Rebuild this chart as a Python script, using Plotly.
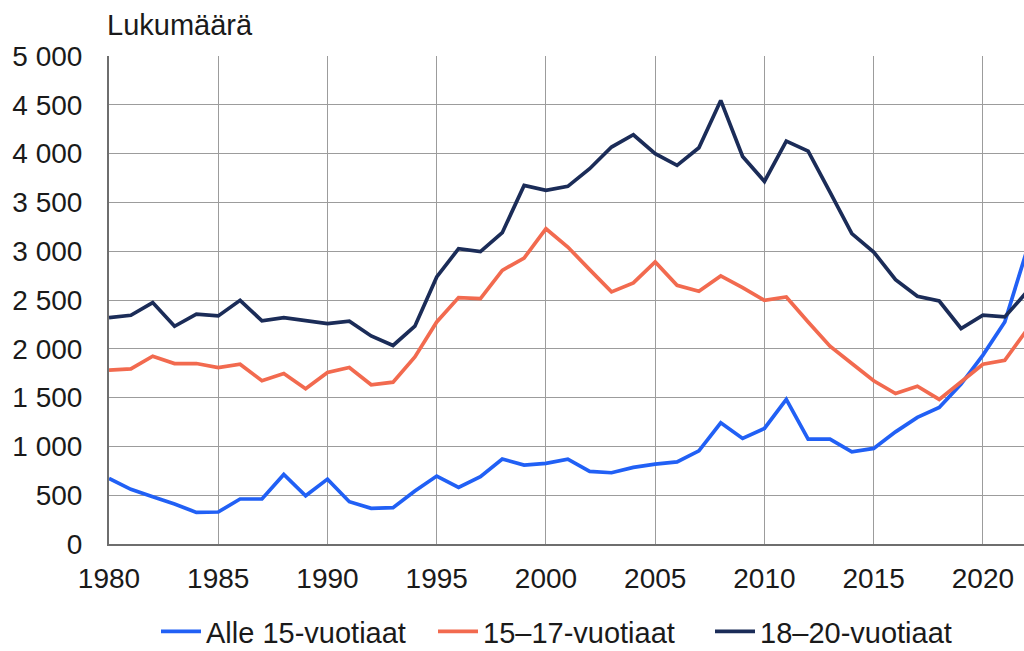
import plotly.graph_objects as go

years = list(range(1980, 2023))

alle15 = [672, 560, 484, 409, 324, 328, 461, 461, 713, 494,
          665, 433, 365, 372, 542, 696, 580, 689, 870, 809,
          826, 870, 744, 730, 785, 819, 842, 955, 1242, 1082,
          1184, 1481, 1075, 1075, 945, 979, 1149, 1297, 1399, 1638,
          1935, 2275, 3000]

v15_17 = [1781, 1795, 1924, 1849, 1849, 1808, 1842, 1672, 1747, 1590,
          1757, 1808, 1631, 1658, 1917, 2275, 2525, 2515, 2804, 2930,
          3230, 3043, 2811, 2583, 2675, 2890, 2651, 2590, 2746, 2627,
          2497, 2531, 2275, 2027, 1849, 1672, 1542, 1617, 1481, 1661,
          1842, 1883, 2190]

v18_20 = [2320, 2344, 2474, 2231, 2354, 2337, 2497, 2286, 2320, 2293,
          2259, 2282, 2132, 2034, 2231, 2736, 3026, 2996, 3190, 3674,
          3623, 3664, 3845, 4067, 4193, 3999, 3879, 4060, 4545, 3971,
          3715, 4128, 4026, 3606, 3180, 2992, 2709, 2538, 2490, 2208,
          2344, 2327, 2580]

series_names = ["Alle 15-vuotiaat", "15\u201317-vuotiaat", "18\u201320-vuotiaat"]
series_values = [alle15, v15_17, v18_20]
series_colors = ["#2160F5", "#F26A4F", "#1B2C58"]

y_ticks = list(range(0, 5001, 500))
y_tick_labels = [f"{v:,}".replace(",", " ") for v in y_ticks]
x_ticks = list(range(1980, 2021, 5))

FONT = "Liberation Sans, Arial, sans-serif"
TXT = "#1a1a1a"

W, H = 1024, 651
ML, MR, MT, MB = 109, 0, 56, 107
PW, PH = W - ML - MR, H - MT - MB

fig = go.Figure()
for name, vals, col in zip(series_names, series_values, series_colors):
    fig.add_trace(go.Scatter(x=years, y=vals, mode="lines", name=name,
                             line=dict(color=col, width=3.7)))

fig.update_layout(
    width=W, height=H,
    margin=dict(l=ML, r=MR, t=MT, b=MB, autoexpand=False),
    paper_bgcolor="white", plot_bgcolor="white",
    font=dict(family=FONT, size=28, color=TXT),
    showlegend=True,
    legend=dict(orientation="h", x=(156 - ML) / PW, xanchor="left",
                y=-(657 - 544) / PH, yanchor="bottom",
                font=dict(size=29, family=FONT, color=TXT),
                entrywidth=222, entrywidthmode="pixels",
                itemwidth=40, tracegroupgap=0),
    annotations=[dict(text="Lukum\u00e4\u00e4r\u00e4", x=-4 / PW, xref="paper", xanchor="left",
                      y=1.0 + (MT - 25) / PH, yref="paper", yanchor="middle", showarrow=False,
                      font=dict(size=29, family=FONT, color=TXT))],
)

fig.update_xaxes(range=[1980, 2021.88], tickvals=x_ticks, ticktext=[str(t) for t in x_ticks],
                 showgrid=True, gridcolor="#9c9c9c", gridwidth=1,
                 showline=True, linecolor="#6e6e6e", linewidth=2,
                 ticks="", ticklabelstandoff=8, zeroline=False)
fig.update_yaxes(range=[0, 5000], tickvals=y_ticks, ticktext=y_tick_labels,
                 showgrid=True, gridcolor="#9c9c9c", gridwidth=1,
                 showline=True, linecolor="#6e6e6e", linewidth=2,
                 ticks="", ticklabelstandoff=19, zeroline=False)

fig.write_html("out.html", config={"displayModeBar": False},
               post_script="document.body.style.margin='0';document.body.style.overflow='hidden';")
